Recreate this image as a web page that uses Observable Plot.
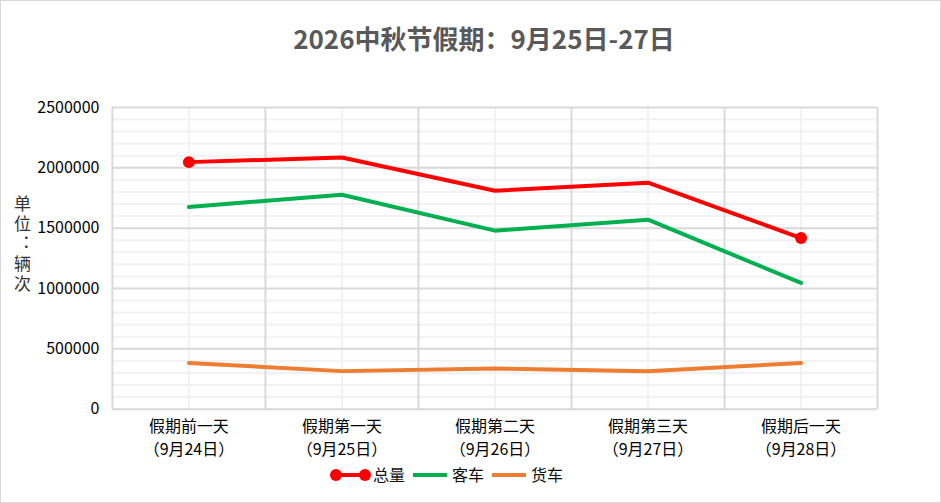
<!DOCTYPE html>
<html>
<head>
<meta charset="utf-8">
<script src="https://cdn.jsdelivr.net/npm/d3@7"></script>
<script src="https://cdn.jsdelivr.net/npm/@observablehq/plot@0.6"></script>
<style>
  html, body { margin: 0; padding: 0; background: #fff; }
  #chart { position: relative; width: 939px; height: 501px; border: 1px solid #d9d9d9; background: #fff; overflow: hidden;
    font-family: "Noto Sans CJK SC", "Noto Sans", sans-serif; }
  #title { position: absolute; left: 0; top: 20px; width: 966px; text-align: center; font-size: 26px; font-weight: bold; color: #595959; line-height: 34px; }
  #ylabel { position: absolute; left: 10px; top: 194px; writing-mode: vertical-rl; text-orientation: upright; font-size: 17px; letter-spacing: 3px; line-height: 22px; color: #333; }
  #plot { position: absolute; left: -1px; top: 74px; }
  #legend { position: absolute; left: 329px; top: 462px; display: flex; align-items: center; font-size: 16px; color: #111; line-height: 23px; }
  #legend .item { display: flex; align-items: center; margin-right: 4px; }
  #legend .item span { margin-left: 2px; }
  #legend svg { display: block; }
</style>
</head>
<body>
<div id="chart">
  <div id="title"></div>
  <div id="ylabel"></div>
  <div id="plot"></div>
  <div id="legend"></div>
</div>
<script>
const titleText = "2026中秋节假期：9月25日-27日";
const yAxisTitle = "单位：辆次";
const categories = ["假期前一天", "假期第一天", "假期第二天", "假期第三天", "假期后一天"];
const dateLabels = ["（9月24日）", "（9月25日）", "（9月26日）", "（9月27日）", "（9月28日）"];
const totalValues = [2047000, 2085000, 1810000, 1877000, 1418000];
const passengerValues = [1675000, 1777000, 1479000, 1570000, 1046000];
const freightValues = [383000, 315000, 337000, 314000, 383000];
const yTicks = [0, 500000, 1000000, 1500000, 2000000, 2500000];
const yMinorTicks = [100000, 200000, 300000, 400000, 600000, 700000, 800000, 900000, 1100000, 1200000, 1300000, 1400000,
  1600000, 1700000, 1800000, 1900000, 2100000, 2200000, 2300000, 2400000];
const seriesNames = ["总量", "客车", "货车"];
const seriesColors = ["#ff0000", "#00b050", "#ed7d31"];

document.getElementById("title").textContent = titleText;
document.getElementById("ylabel").textContent = yAxisTitle;

const n = categories.length;
const rows = categories.map((c, i) => ({
  i, category: c,
  total: totalValues[i], passenger: passengerValues[i], freight: freightValues[i]
}));
const centers = d3.range(n);
const boundaries = d3.range(n + 1).map(k => k - 0.5);

const chart = Plot.plot({
  width: 941,
  height: 390,
  marginLeft: 112,
  marginRight: 63,
  marginTop: 32,
  marginBottom: 56,
  x: { domain: [-0.5, n - 0.5] },
  y: { domain: [0, 2500000] },
  style: { fontFamily: '"Noto Sans CJK SC", "Noto Sans", sans-serif', color: "#000", background: "transparent", overflow: "visible" },
  marks: [
    Plot.gridY(yMinorTicks, { stroke: "#f2f2f2", strokeOpacity: 1, strokeWidth: 2 }),
    Plot.gridX(centers, { stroke: "#f2f2f2", strokeOpacity: 1, strokeWidth: 2 }),
    Plot.gridX(boundaries, { stroke: "#d9d9d9", strokeOpacity: 1, strokeWidth: 2 }),
    Plot.gridY(yTicks, { stroke: "#d9d9d9", strokeOpacity: 1, strokeWidth: 2 }),
    Plot.axisY(yTicks, { tickSize: 0, tickPadding: 13, tickFormat: d => String(d), fontSize: 16, label: null }),
    Plot.axisX(centers, { tickSize: 0, tickPadding: 12, tickFormat: i => categories[i], fontSize: 16, label: null }),
    Plot.axisX(centers, { tickSize: 0, tickPadding: 35, tickFormat: i => dateLabels[i], fontSize: 16, label: null }),
    Plot.lineY(rows, { x: "i", y: "freight", stroke: seriesColors[2], strokeWidth: 4 }),
    Plot.lineY(rows, { x: "i", y: "passenger", stroke: seriesColors[1], strokeWidth: 4 }),
    Plot.lineY(rows, { x: "i", y: "total", stroke: seriesColors[0], strokeWidth: 4 }),
    Plot.dot(rows.filter((d, k) => k === 0 || k === n - 1), { x: "i", y: "total", r: 6, fill: seriesColors[0], stroke: "none" })
  ]
});
document.getElementById("plot").appendChild(chart);

const legend = document.getElementById("legend");
seriesNames.forEach((name, k) => {
  const item = document.createElement("div");
  item.className = "item";
  const markers = k === 0 ? `<circle cx="6" cy="10" r="6" fill="${seriesColors[k]}"/><circle cx="35" cy="10" r="6" fill="${seriesColors[k]}"/>` : "";
  item.innerHTML = `<svg width="41" height="20"><line x1="${k === 0 ? 6 : 4}" x2="${k === 0 ? 35 : 38}" y1="10" y2="10" stroke="${seriesColors[k]}" stroke-width="4"/>${markers}</svg><span>${name}</span>`;
  legend.appendChild(item);
});
</script>
</body>
</html>
